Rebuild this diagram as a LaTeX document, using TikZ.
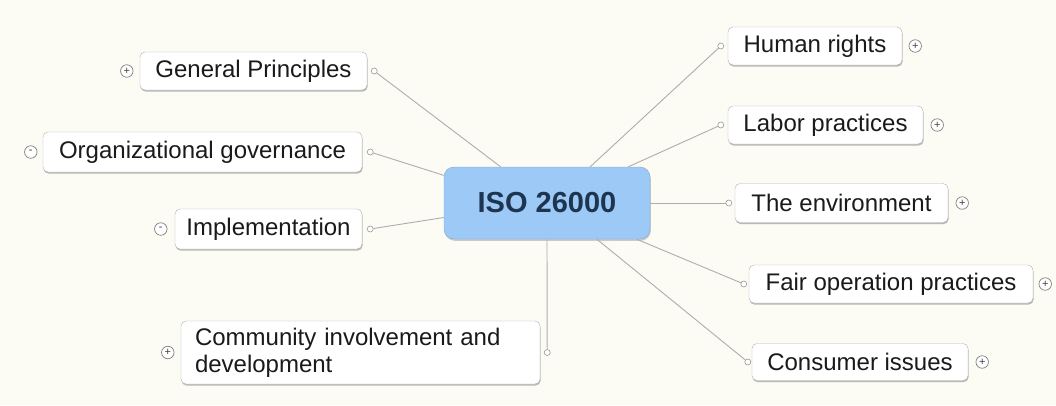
\documentclass[tikz,border=0pt]{standalone}
\usepackage{fontspec}
\setmainfont{Liberation Sans}
\usetikzlibrary{calc,shadows}
\definecolor{bg}{HTML}{FCFCF5}
\definecolor{cfill}{HTML}{9DC9F6}
\definecolor{cdraw}{HTML}{7FA8D6}
\definecolor{ctext}{HTML}{1E3550}
\definecolor{boxtext}{HTML}{1A1A1A}
\tikzset{
  topic/.style={draw=black!30, fill=white, rounded corners=5pt, inner xsep=0pt, inner ysep=0pt,
    text=boxtext, font=\fontsize{24}{27}\selectfont,
    drop shadow={shadow xshift=0.6pt, shadow yshift=-1.6pt, fill=black!45, opacity=0.6}},
  central/.style={draw=cdraw, fill=cfill, rounded corners=10pt, inner sep=0pt,
    text=ctext, font=\fontsize{29}{32}\selectfont\bfseries,
    drop shadow={shadow xshift=0.8pt, shadow yshift=-1.8pt, fill=black!40, opacity=0.5}},
  port/.style={circle, draw=black!40, fill=white, minimum size=6pt, inner sep=0pt, line width=0.6pt},
  expander/.style={circle, draw=black!50, fill=white, minimum size=12.5pt, inner sep=0pt, line width=0.7pt,
    text=black!75, font=\fontsize{11}{11}\selectfont},
  link/.style={draw=black!32, line width=0.9pt}
}
\begin{document}
\begin{tikzpicture}[x=1pt,y=-1pt]
\useasboundingbox[fill=bg] (0,0) rectangle (1056,405);

% central topic
\node[central, minimum width=206pt, minimum height=72pt] (c) at (547,203) {ISO 26000};

% left topics
\node[topic, minimum width=227pt, minimum height=38pt] (gp) at (253.5,71) {General Principles};
\node[topic, minimum width=319pt, minimum height=40pt] (og) at (202.5,152) {Organizational governance};
\node[topic, minimum width=187pt, minimum height=40pt] (im) at (268.5,229) {Implementation};
\node[topic, minimum height=63pt, text width=331pt, inner xsep=14pt, align=left] (cm) at (360.5,352.5)
  {Community involvement and\\development};

% right topics
\node[topic, minimum width=174pt, minimum height=38pt] (hr) at (815,46) {Human rights};
\node[topic, minimum width=195pt, minimum height=38pt] (lp) at (825.5,125) {Labor practices};
\node[topic, minimum width=213pt, minimum height=39pt] (en) at (841.5,203) {The environment};
\node[topic, minimum width=284pt, minimum height=38pt] (fo) at (891,284) {Fair operation practices};
\node[topic, minimum width=216pt, minimum height=37pt] (ci) at (860,362) {Consumer issues};

% ports
\node[port] (gpP) at ($(gp.east)+(7,0)$) {};
\node[port] (ogP) at ($(og.east)+(8,0)$) {};
\node[port] (imP) at ($(im.east)+(8,0)$) {};
\node[port] (cmP) at ($(cm.east)+(7,0)$) {};
\node[port] (hrP) at ($(hr.west)+(-7,0)$) {};
\node[port] (lpP) at ($(lp.west)+(-7,0)$) {};
\node[port] (enP) at ($(en.west)+(-6,0)$) {};
\node[port] (foP) at ($(fo.west)+(-5,0)$) {};
\node[port] (ciP) at ($(ci.west)+(-4,0)$) {};

% connectors
\draw[link] (gpP) -- (c.142);
\draw[link] (ogP) -- (c.165);
\draw[link] (imP) -- (c.188);
\draw[link] (c.south) -- (cmP);
\draw[link] (hrP) -- (c.40);
\draw[link] (lpP) -- (c.24);
\draw[link] (enP) -- (c.east);
\draw[link] (foP) -- (c.-22);
\draw[link] (ciP) -- (c.-36);

% expanders
\node[expander] (gpE) at ($(gp.west)+(-13,0)$) {+};
\node[expander] (ogE) at ($(og.west)+(-12,0)$) {\raisebox{0.5pt}{-}};
\node[expander] (imE) at ($(im.west)+(-14,0)$) {\raisebox{0.5pt}{-}};
\node[expander] (cmE) at ($(cm.west)+(-13,0)$) {+};
\node[expander] (hrE) at ($(hr.east)+(13,0)$) {+};
\node[expander] (lpE) at ($(lp.east)+(14,0)$) {+};
\node[expander] (enE) at ($(en.east)+(14,0)$) {+};
\node[expander] (foE) at ($(fo.east)+(12,0)$) {+};
\node[expander] (ciE) at ($(ci.east)+(14,0)$) {+};
\end{tikzpicture}
\end{document}
